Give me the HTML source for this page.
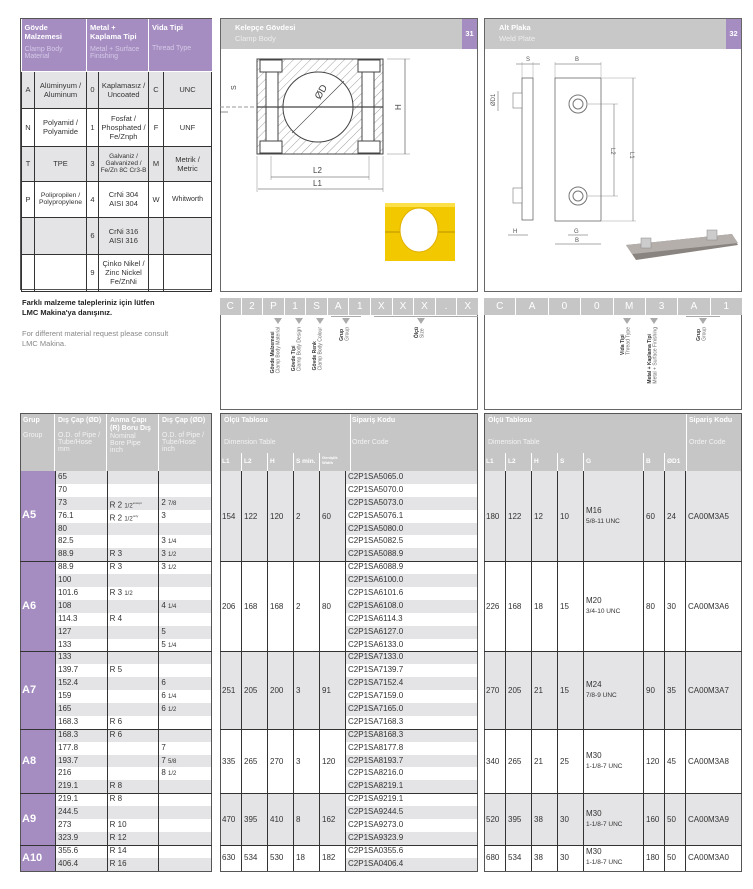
<!DOCTYPE html>
<html><head><meta charset="utf-8">
<style>
*{box-sizing:border-box;margin:0;padding:0}
body{width:753px;height:889px;background:#fff;position:relative;overflow:hidden;font-family:"Liberation Sans","DejaVu Sans",sans-serif;color:#333}
.a{position:absolute}
.r{height:12.9px;display:flex;font-size:8px;line-height:12.9px}
.r>div{border-right:1px solid #333;padding-left:2px;white-space:nowrap;overflow:hidden}
.r>div:last-child{border-right:none}
.g{background:#e4e4e6}.w{background:#fff}
.blk{display:flex;font-size:8px;align-items:center}
.blk>div{height:100%;border-right:1px solid #333;display:flex;align-items:center;padding-left:2px}
.hl{position:absolute;height:1px;background:#333}
.hd{background:#c6c6c6;color:#fff;font-size:7px;font-weight:bold}
.sub{color:#f2f2f2;font-weight:normal;font-size:7px}
sup{font-size:3px}
.fr{font-size:6px}
.pt td{border:1px solid #333;text-align:center;font-size:7.5px;color:#333}
.vt{position:absolute;writing-mode:vertical-rl;transform:rotate(180deg);font-size:5px;line-height:5.5px;color:#666;white-space:nowrap}
.vt b{color:#333}
.tri{position:absolute;width:0;height:0;border-left:4px solid transparent;border-right:4px solid transparent;border-top:6px solid #aaa}
</style></head><body>

<div class="a" style="left:20px;top:18px;width:192px;height:272px;border:1px solid #555">
<table class="pt" style="border-collapse:collapse;width:190px;table-layout:fixed">
<colgroup><col style="width:13px"><col style="width:52px"><col style="width:12px"><col style="width:50px"><col style="width:15px"><col style="width:48px"></colgroup>
<tr style="height:52px;background:#a58dc2;color:#fff;text-align:left;vertical-align:top">
<td colspan="2" style="text-align:left;color:#fff;font-weight:bold;padding:4px 3px;font-size:7.5px;border-color:#fff;border-top:none;border-left:none">Gövde<br>Malzemesi<div style="font-weight:normal;color:#d6c9e6;margin-top:5px;font-size:7px">Clamp Body<br>Material</div></td>
<td colspan="2" style="text-align:left;color:#fff;font-weight:bold;padding:4px 3px;font-size:7.5px;border-color:#fff;border-top:none">Metal +<br>Kaplama Tipi<div style="font-weight:normal;color:#d6c9e6;margin-top:5px;font-size:7px">Metal + Surface<br>Finishing</div></td>
<td colspan="2" style="text-align:left;color:#fff;font-weight:bold;padding:4px 3px;font-size:7.5px;border-color:#fff;border-top:none;border-right:none">Vida Tipi<div style="font-weight:normal;color:#d6c9e6;margin-top:13px;font-size:7px">Thread Type</div></td></tr>
<tr style="height:37px;background:#e4e4e6"><td>A</td><td>Alüminyum /<br>Aluminum</td><td>0</td><td>Kaplamasız /<br>Uncoated</td><td>C</td><td>UNC</td></tr>
<tr style="height:38px"><td>N</td><td>Polyamid /<br>Polyamide</td><td>1</td><td>Fosfat /<br>Phosphated /<br>Fe/Znph</td><td>F</td><td>UNF</td></tr>
<tr style="height:35px;background:#e4e4e6"><td>T</td><td>TPE</td><td>3</td><td style="font-size:6.5px">Galvaniz /<br>Galvanized /<br>Fe/Zn 8C Cr3-B</td><td>M</td><td>Metrik /<br>Metric</td></tr>
<tr style="height:36px"><td>P</td><td style="font-size:6.8px">Polipropilen /<br>Polypropylene</td><td>4</td><td>CrNi 304<br>AISI 304</td><td>W</td><td style="font-size:7px">Whitworth</td></tr>
<tr style="height:37px;background:#e4e4e6"><td></td><td></td><td>6</td><td>CrNi 316<br>AISI 316</td><td></td><td></td></tr>
<tr style="height:37px"><td></td><td></td><td>9</td><td>Çinko Nikel /<br>Zinc Nickel<br>Fe/ZnNi</td><td></td><td></td></tr>
</table></div>

<div class="a" style="left:22px;top:298px;font-size:7.5px;font-weight:bold;color:#222;line-height:10px">Farklı malzeme talepleriniz için lütfen<br>LMC Makina'ya danışınız.</div>
<div class="a" style="left:22px;top:329px;font-size:7.5px;color:#888;line-height:10px">For different material request please consult<br>LMC Makina.</div>

<div class="a" style="left:220px;top:18px;width:258px;height:274px;border:1px solid #666">
<div style="height:30px;background:#c8c8c8;padding:4px 0 0 14px;font-size:7.5px;font-weight:bold;color:#fff">Kelepçe Gövdesi<div style="font-weight:normal;color:#eee;margin-top:2px">Clamp Body</div></div>
<div class="a" style="right:0;top:0;width:15px;height:30px;background:#a58dc2;color:#fff;font-size:7.5px;font-weight:bold;text-align:center;line-height:30px">31</div>
</div>
<svg class="a" style="left:220px;top:48px" width="258" height="244">
<defs><pattern id="h" width="6" height="6" patternUnits="userSpaceOnUse" patternTransform="rotate(45)"><line x1="0" y1="0" x2="0" y2="6" stroke="#666" stroke-width="0.6"/></pattern></defs>
<rect x="37" y="11" width="126" height="95" fill="url(#h)" stroke="#444"/>
<rect x="40" y="12" width="22" height="12" fill="#fff" stroke="#444"/>
<rect x="138" y="12" width="22" height="12" fill="#fff" stroke="#444"/>
<rect x="40" y="93" width="22" height="12" fill="#fff" stroke="#444"/>
<rect x="138" y="93" width="22" height="12" fill="#fff" stroke="#444"/>
<rect x="46" y="24" width="12" height="69" fill="#fff" stroke="#444"/>
<rect x="142" y="24" width="12" height="69" fill="#fff" stroke="#444"/>
<circle cx="98" cy="59" r="35" fill="#fff" stroke="#444"/>
<line x1="37" y1="59" x2="163" y2="59" stroke="#444" stroke-width="1.2"/>
<line x1="0" y1="59" x2="37" y2="59" stroke="#999" stroke-dasharray="4 2"/>
<line x1="72" y1="85" x2="124" y2="33" stroke="#444" stroke-width="0.6"/>
<text x="100" y="52" font-size="10" fill="#444" transform="rotate(-60 100 52)">ØD</text>
<text x="16" y="42" font-size="7" fill="#444" transform="rotate(-90 16 42)">S</text>
<line x1="0" y1="64" x2="8" y2="64" stroke="#444" stroke-width="0.6"/>
<line x1="167" y1="11" x2="190" y2="11" stroke="#888" stroke-width="0.5"/><line x1="167" y1="106" x2="190" y2="106" stroke="#888" stroke-width="0.5"/>
<line x1="185" y1="11" x2="185" y2="106" stroke="#444" stroke-width="0.6"/>
<text x="181" y="62" font-size="8" fill="#444" transform="rotate(-90 181 62)">H</text>
<line x1="51" y1="108" x2="51" y2="132" stroke="#888" stroke-width="0.5"/><line x1="149" y1="108" x2="149" y2="132" stroke="#888" stroke-width="0.5"/>
<line x1="37" y1="108" x2="37" y2="144" stroke="#888" stroke-width="0.5"/><line x1="163" y1="108" x2="163" y2="144" stroke="#888" stroke-width="0.5"/>
<line x1="51" y1="129" x2="149" y2="129" stroke="#444" stroke-width="0.6"/>
<text x="93" y="125" font-size="8" fill="#444">L2</text>
<line x1="38" y1="141" x2="163" y2="141" stroke="#444" stroke-width="0.6"/>
<text x="93" y="138" font-size="8" fill="#444">L1</text>
<rect x="165" y="155" width="70" height="58" fill="#f2c800"/>
<rect x="165" y="155" width="70" height="4" fill="#fbe04a"/>
<line x1="165" y1="184" x2="235" y2="184" stroke="#b89400"/>
<ellipse cx="199" cy="182" rx="19" ry="22" fill="#fff" stroke="#e0b000"/>
</svg>

<div class="a" style="left:484px;top:18px;width:258px;height:274px;border:1px solid #666">
<div style="height:30px;background:#c8c8c8;padding:4px 0 0 14px;font-size:7.5px;font-weight:bold;color:#fff">Alt Plaka<div style="font-weight:normal;color:#eee;margin-top:2px">Weld Plate</div></div>
<div class="a" style="right:0;top:0;width:15px;height:30px;background:#a58dc2;color:#fff;font-size:7.5px;font-weight:bold;text-align:center;line-height:30px">32</div>
</div>
<svg class="a" style="left:484px;top:48px" width="258" height="244" font-size="6" fill="#555">
<rect x="38" y="30" width="11" height="142" fill="#fff" stroke="#555" stroke-width="0.7"/>
<rect x="29" y="45" width="9" height="15" fill="#fff" stroke="#777" stroke-width="0.6"/>
<rect x="29" y="140" width="9" height="15" fill="#fff" stroke="#777" stroke-width="0.6"/>
<rect x="71" y="30" width="46" height="143" fill="#fff" stroke="#555" stroke-width="0.7"/>
<circle cx="94" cy="56" r="9" fill="none" stroke="#777"/><circle cx="94" cy="56" r="5" fill="none" stroke="#777"/>
<circle cx="94" cy="148" r="9" fill="none" stroke="#777"/><circle cx="94" cy="148" r="5" fill="none" stroke="#777"/>
<line x1="32" y1="16" x2="56" y2="16" stroke="#555" stroke-width="0.5"/><text x="42" y="13">S</text>
<line x1="71" y1="16" x2="117" y2="16" stroke="#555" stroke-width="0.5"/><text x="91" y="13">B</text>
<line x1="38" y1="14" x2="38" y2="30" stroke="#888" stroke-width="0.4"/><line x1="49" y1="14" x2="49" y2="30" stroke="#888" stroke-width="0.4"/>
<line x1="71" y1="14" x2="71" y2="30" stroke="#888" stroke-width="0.4"/><line x1="117" y1="14" x2="117" y2="30" stroke="#888" stroke-width="0.4"/>
<line x1="118" y1="30" x2="152" y2="30" stroke="#888" stroke-width="0.4"/><line x1="118" y1="173" x2="152" y2="173" stroke="#888" stroke-width="0.4"/>
<line x1="149" y1="30" x2="149" y2="173" stroke="#555" stroke-width="0.5"/>
<text x="146" y="104" transform="rotate(90 146 104)">L1</text>
<line x1="104" y1="56" x2="134" y2="56" stroke="#777" stroke-width="0.4"/><line x1="104" y1="148" x2="134" y2="148" stroke="#777" stroke-width="0.4"/>
<line x1="130" y1="56" x2="130" y2="148" stroke="#555" stroke-width="0.5"/>
<text x="127" y="100" transform="rotate(90 127 100)">L2</text>
<line x1="14" y1="43" x2="14" y2="63" stroke="#555" stroke-width="0.5"/>
<text x="11" y="58" transform="rotate(-90 11 58)">ØD1</text>
<line x1="24" y1="187" x2="44" y2="187" stroke="#555" stroke-width="0.5"/><text x="29" y="185">H</text>
<line x1="84" y1="187" x2="104" y2="187" stroke="#555" stroke-width="0.5"/><text x="90" y="185">G</text>
<line x1="71" y1="196" x2="117" y2="196" stroke="#555" stroke-width="0.5"/><text x="91" y="194">B</text>
<polygon points="142,197 248,186 254,197 152,212" fill="#8a8480"/>
<polygon points="142,197 248,186 254,195 148,206" fill="#b5afab"/>
<rect x="157" y="190" width="10" height="10" fill="#ccc" stroke="#888" stroke-width="0.5"/>
<rect x="223" y="182" width="10" height="10" fill="#ccc" stroke="#888" stroke-width="0.5"/>
</svg>

<div class="a" style="left:220px;top:298px;width:258px;height:112px;border:1px solid #666;border-top:none"></div>
<div class="a" style="left:484px;top:298px;width:258px;height:112px;border:1px solid #666;border-top:none"></div>
<div class="a" style="left:220px;top:298px;width:258px;height:17px;background:#c6c6c6;display:flex;color:#fff;font-size:10px">
<div style="flex:1;text-align:center;line-height:17px;border-right:1px solid #fff">C</div><div style="flex:1;text-align:center;line-height:17px;border-right:1px solid #fff">2</div><div style="flex:1;text-align:center;line-height:17px;border-right:1px solid #fff">P</div><div style="flex:1;text-align:center;line-height:17px;border-right:1px solid #fff">1</div><div style="flex:1;text-align:center;line-height:17px;border-right:1px solid #fff">S</div><div style="flex:1;text-align:center;line-height:17px;border-right:1px solid #fff">A</div><div style="flex:1;text-align:center;line-height:17px;border-right:1px solid #fff">1</div><div style="flex:1;text-align:center;line-height:17px;border-right:1px solid #fff">X</div><div style="flex:1;text-align:center;line-height:17px;border-right:1px solid #fff">X</div><div style="flex:1;text-align:center;line-height:17px;border-right:1px solid #fff">X</div><div style="flex:1;text-align:center;line-height:17px;border-right:1px solid #fff">.</div><div style="flex:1;text-align:center;line-height:17px">X</div></div>
<div class="a" style="left:484px;top:298px;width:258px;height:17px;background:#c6c6c6;display:flex;color:#fff;font-size:10px">
<div style="flex:1;text-align:center;line-height:17px;border-right:1px solid #fff">C</div><div style="flex:1;text-align:center;line-height:17px;border-right:1px solid #fff">A</div><div style="flex:1;text-align:center;line-height:17px;border-right:1px solid #fff">0</div><div style="flex:1;text-align:center;line-height:17px;border-right:1px solid #fff">0</div><div style="flex:1;text-align:center;line-height:17px;border-right:1px solid #fff">M</div><div style="flex:1;text-align:center;line-height:17px;border-right:1px solid #fff">3</div><div style="flex:1;text-align:center;line-height:17px;border-right:1px solid #fff">A</div><div style="flex:1;text-align:center;line-height:17px">1</div></div>
<div class="a" style="left:331px;top:316px;width:30px;height:1px;background:#aaa"></div>
<div class="a" style="left:374px;top:316px;width:104px;height:1px;background:#aaa"></div>
<div class="a" style="left:686px;top:316px;width:34px;height:1px;background:#aaa"></div>
<div class="tri" style="left:274px;top:318px"></div><div class="tri" style="left:295px;top:318px"></div><div class="tri" style="left:316px;top:318px"></div><div class="tri" style="left:342px;top:318px"></div><div class="tri" style="left:417px;top:318px"></div>
<div class="tri" style="left:623px;top:318px"></div><div class="tri" style="left:650px;top:318px"></div><div class="tri" style="left:699px;top:318px"></div>
<div class="vt" style="left:271px;top:327px"><b>Gövde Malzemesi</b><br>Clamp Body Material</div>
<div class="vt" style="left:292px;top:327px"><b>Gövde Tipi</b><br>Clamp Body Design</div>
<div class="vt" style="left:313px;top:327px"><b>Gövde Renk</b><br>Clamp Body Colour</div>
<div class="vt" style="left:340px;top:327px"><b>Grup</b><br>Group</div>
<div class="vt" style="left:415px;top:327px"><b>Ölçü</b><br>Size</div>
<div class="vt" style="left:621px;top:327px"><b>Vida Tipi</b><br>Thread Type</div>
<div class="vt" style="left:648px;top:327px"><b>Metal + Kaplama Tipi</b><br>Metal + Surface Finishing</div>
<div class="vt" style="left:697px;top:327px"><b>Grup</b><br>Group</div>

<div class="a hd" style="left:20px;top:413px;width:192px;height:58px;display:flex">
<div style="width:35px;border-right:1px solid #fff;padding:4px 3px">Grup<div class="sub" style="margin-top:8px">Group</div></div>
<div style="width:52px;border-right:1px solid #fff;padding:4px 3px">Dış Çap (ØD)<div class="sub" style="margin-top:8px;line-height:7px">O.D. of Pipe /<br>Tube/Hose<br>mm</div></div>
<div style="width:52px;border-right:1px solid #fff;padding:4px 3px;line-height:8px">Anma Çapı<br>(R) Boru Dış<div class="sub" style="line-height:7px">Nominal<br>Bore Pipe<br>inch</div></div>
<div style="width:53px;padding:4px 3px">Dış Çap (ØD)<div class="sub" style="margin-top:8px;line-height:7px">O.D. of Pipe /<br>Tube/Hose<br>inch</div></div>
</div>
<div class="a" style="left:20px;top:471px;width:35px;height:400px;background:#a58dc2"></div>
<div class="a" style="left:22px;top:509px;color:#fff;font-size:11px;font-weight:bold">A5</div>
<div class="a" style="left:22px;top:600px;color:#fff;font-size:11px;font-weight:bold">A6</div>
<div class="a" style="left:22px;top:684px;color:#fff;font-size:11px;font-weight:bold">A7</div>
<div class="a" style="left:22px;top:755px;color:#fff;font-size:11px;font-weight:bold">A8</div>
<div class="a" style="left:22px;top:813px;color:#fff;font-size:11px;font-weight:bold">A9</div>
<div class="a" style="left:22px;top:852px;color:#fff;font-size:11px;font-weight:bold">A10</div>
<div class="a" style="left:55px;top:471px;width:157px;border-left:1px solid #333">
<div class="r g"><div style="width:52px">65</div><div style="width:52px"></div><div style="width:53px"></div></div>
<div class="r w"><div style="width:52px">70</div><div style="width:52px"></div><div style="width:53px"></div></div>
<div class="r g"><div style="width:52px">73</div><div style="width:52px">R 2 <span class="fr">1/2</span><sup>except</sup></div><div style="width:53px">2 <span class="fr">7/8</span></div></div>
<div class="r w"><div style="width:52px">76.1</div><div style="width:52px">R 2 <span class="fr">1/2</span><sup>only</sup></div><div style="width:53px">3</div></div>
<div class="r g"><div style="width:52px">80</div><div style="width:52px"></div><div style="width:53px"></div></div>
<div class="r w"><div style="width:52px">82.5</div><div style="width:52px"></div><div style="width:53px">3 <span class="fr">1/4</span></div></div>
<div class="r g"><div style="width:52px">88.9</div><div style="width:52px">R 3</div><div style="width:53px">3 <span class="fr">1/2</span></div></div>
<div class="r w"><div style="width:52px">88.9</div><div style="width:52px">R 3</div><div style="width:53px">3 <span class="fr">1/2</span></div></div>
<div class="r g"><div style="width:52px">100</div><div style="width:52px"></div><div style="width:53px"></div></div>
<div class="r w"><div style="width:52px">101.6</div><div style="width:52px">R 3 <span class="fr">1/2</span></div><div style="width:53px"></div></div>
<div class="r g"><div style="width:52px">108</div><div style="width:52px"></div><div style="width:53px">4 <span class="fr">1/4</span></div></div>
<div class="r w"><div style="width:52px">114.3</div><div style="width:52px">R 4</div><div style="width:53px"></div></div>
<div class="r g"><div style="width:52px">127</div><div style="width:52px"></div><div style="width:53px">5</div></div>
<div class="r w"><div style="width:52px">133</div><div style="width:52px"></div><div style="width:53px">5 <span class="fr">1/4</span></div></div>
<div class="r g"><div style="width:52px">133</div><div style="width:52px"></div><div style="width:53px"></div></div>
<div class="r w"><div style="width:52px">139.7</div><div style="width:52px">R 5</div><div style="width:53px"></div></div>
<div class="r g"><div style="width:52px">152.4</div><div style="width:52px"></div><div style="width:53px">6</div></div>
<div class="r w"><div style="width:52px">159</div><div style="width:52px"></div><div style="width:53px">6 <span class="fr">1/4</span></div></div>
<div class="r g"><div style="width:52px">165</div><div style="width:52px"></div><div style="width:53px">6 <span class="fr">1/2</span></div></div>
<div class="r w"><div style="width:52px">168.3</div><div style="width:52px">R 6</div><div style="width:53px"></div></div>
<div class="r g"><div style="width:52px">168.3</div><div style="width:52px">R 6</div><div style="width:53px"></div></div>
<div class="r w"><div style="width:52px">177.8</div><div style="width:52px"></div><div style="width:53px">7</div></div>
<div class="r g"><div style="width:52px">193.7</div><div style="width:52px"></div><div style="width:53px">7 <span class="fr">5/8</span></div></div>
<div class="r w"><div style="width:52px">216</div><div style="width:52px"></div><div style="width:53px">8 <span class="fr">1/2</span></div></div>
<div class="r g"><div style="width:52px">219.1</div><div style="width:52px">R 8</div><div style="width:53px"></div></div>
<div class="r w"><div style="width:52px">219.1</div><div style="width:52px">R 8</div><div style="width:53px"></div></div>
<div class="r g"><div style="width:52px">244.5</div><div style="width:52px"></div><div style="width:53px"></div></div>
<div class="r w"><div style="width:52px">273</div><div style="width:52px">R 10</div><div style="width:53px"></div></div>
<div class="r g"><div style="width:52px">323.9</div><div style="width:52px">R 12</div><div style="width:53px"></div></div>
<div class="r w"><div style="width:52px">355.6</div><div style="width:52px">R 14</div><div style="width:53px"></div></div>
<div class="r g"><div style="width:52px">406.4</div><div style="width:52px">R 16</div><div style="width:53px"></div></div>
</div>
<div class="a" style="left:20px;top:413px;width:192px;height:459px;border:1px solid #555"></div>

<div class="a hd" style="left:220px;top:413px;width:258px;height:58px">
<div class="a" style="left:4px;top:4px">Ölçü Tablosu</div><div class="a sub" style="left:4px;top:26px">Dimension Table</div>
<div class="a" style="left:130px;top:0;width:1px;height:58px;background:#fff"></div>
<div class="a" style="left:132px;top:4px">Sipariş Kodu</div><div class="a sub" style="left:132px;top:26px">Order Code</div>
<div class="a" style="left:0;top:40px;width:130px;height:18px;display:flex;font-size:6.5px">
<div style="width:22px;border-right:1px solid #fff;padding:5px 2px">L1</div><div style="width:26px;border-right:1px solid #fff;padding:5px 2px">L2</div><div style="width:26px;border-right:1px solid #fff;padding:5px 2px">H</div><div style="width:26px;border-right:1px solid #fff;padding:5px 2px">S min.</div><div style="width:30px;padding:2px;font-size:4px">Genişlik<br>Width</div></div>
</div>
<div class="a" style="left:220px;top:471px;width:126px">
<div class="blk g" style="height:90.3px"><div style="width:22px">154</div><div style="width:26px">122</div><div style="width:26px">120</div><div style="width:26px">2</div><div style="width:26px">60</div></div>
<div class="blk w" style="height:90.3px"><div style="width:22px">206</div><div style="width:26px">168</div><div style="width:26px">168</div><div style="width:26px">2</div><div style="width:26px">80</div></div>
<div class="blk g" style="height:77.4px"><div style="width:22px">251</div><div style="width:26px">205</div><div style="width:26px">200</div><div style="width:26px">3</div><div style="width:26px">91</div></div>
<div class="blk w" style="height:64.5px"><div style="width:22px">335</div><div style="width:26px">265</div><div style="width:26px">270</div><div style="width:26px">3</div><div style="width:26px">120</div></div>
<div class="blk g" style="height:51.6px"><div style="width:22px">470</div><div style="width:26px">395</div><div style="width:26px">410</div><div style="width:26px">8</div><div style="width:26px">162</div></div>
<div class="blk w" style="height:25.8px"><div style="width:22px">630</div><div style="width:26px">534</div><div style="width:26px">530</div><div style="width:26px">18</div><div style="width:26px">182</div></div>
</div>
<div class="a" style="left:346px;top:471px;width:132px">
<div class="r g"><div>C2P1SA5065.0</div></div><div class="r w"><div>C2P1SA5070.0</div></div><div class="r g"><div>C2P1SA5073.0</div></div><div class="r w"><div>C2P1SA5076.1</div></div><div class="r g"><div>C2P1SA5080.0</div></div><div class="r w"><div>C2P1SA5082.5</div></div><div class="r g"><div>C2P1SA5088.9</div></div>
<div class="r w"><div>C2P1SA6088.9</div></div><div class="r g"><div>C2P1SA6100.0</div></div><div class="r w"><div>C2P1SA6101.6</div></div><div class="r g"><div>C2P1SA6108.0</div></div><div class="r w"><div>C2P1SA6114.3</div></div><div class="r g"><div>C2P1SA6127.0</div></div><div class="r w"><div>C2P1SA6133.0</div></div>
<div class="r g"><div>C2P1SA7133.0</div></div><div class="r w"><div>C2P1SA7139.7</div></div><div class="r g"><div>C2P1SA7152.4</div></div><div class="r w"><div>C2P1SA7159.0</div></div><div class="r g"><div>C2P1SA7165.0</div></div><div class="r w"><div>C2P1SA7168.3</div></div>
<div class="r g"><div>C2P1SA8168.3</div></div><div class="r w"><div>C2P1SA8177.8</div></div><div class="r g"><div>C2P1SA8193.7</div></div><div class="r w"><div>C2P1SA8216.0</div></div><div class="r g"><div>C2P1SA8219.1</div></div>
<div class="r w"><div>C2P1SA9219.1</div></div><div class="r g"><div>C2P1SA9244.5</div></div><div class="r w"><div>C2P1SA9273.0</div></div><div class="r g"><div>C2P1SA9323.9</div></div>
<div class="r w"><div>C2P1SA0355.6</div></div><div class="r g"><div>C2P1SA0406.4</div></div>
</div>
<div class="a" style="left:220px;top:413px;width:258px;height:459px;border:1px solid #555"></div>

<div class="a hd" style="left:484px;top:413px;width:258px;height:58px">
<div class="a" style="left:4px;top:4px">Ölçü Tablosu</div><div class="a sub" style="left:4px;top:26px">Dimension Table</div>
<div class="a" style="left:202px;top:0;width:1px;height:58px;background:#fff"></div>
<div class="a" style="left:205px;top:4px">Sipariş Kodu</div><div class="a sub" style="left:205px;top:26px">Order Code</div>
<div class="a" style="left:0;top:40px;width:202px;height:18px;display:flex;font-size:6.5px">
<div style="width:22px;border-right:1px solid #fff;padding:5px 2px">L1</div><div style="width:26px;border-right:1px solid #fff;padding:5px 2px">L2</div><div style="width:26px;border-right:1px solid #fff;padding:5px 2px">H</div><div style="width:26px;border-right:1px solid #fff;padding:5px 2px">S</div><div style="width:60px;border-right:1px solid #fff;padding:5px 2px">G</div><div style="width:21px;border-right:1px solid #fff;padding:5px 2px">B</div><div style="width:21px;padding:5px 2px">ØD1</div></div>
</div>
<div class="a" style="left:484px;top:471px;width:258px">
<div class="blk g" style="height:90.3px"><div style="width:22px">180</div><div style="width:26px">122</div><div style="width:26px">12</div><div style="width:26px">10</div><div style="width:60px"><div style="line-height:10px">M16<br><span style="font-size:6.5px">5/8-11 UNC</span></div></div><div style="width:21px">60</div><div style="width:21px">24</div><div style="width:56px;border:none">CA00M3A5</div></div>
<div class="blk w" style="height:90.3px"><div style="width:22px">226</div><div style="width:26px">168</div><div style="width:26px">18</div><div style="width:26px">15</div><div style="width:60px"><div style="line-height:10px">M20<br><span style="font-size:6.5px">3/4-10 UNC</span></div></div><div style="width:21px">80</div><div style="width:21px">30</div><div style="width:56px;border:none">CA00M3A6</div></div>
<div class="blk g" style="height:77.4px"><div style="width:22px">270</div><div style="width:26px">205</div><div style="width:26px">21</div><div style="width:26px">15</div><div style="width:60px"><div style="line-height:10px">M24<br><span style="font-size:6.5px">7/8-9 UNC</span></div></div><div style="width:21px">90</div><div style="width:21px">35</div><div style="width:56px;border:none">CA00M3A7</div></div>
<div class="blk w" style="height:64.5px"><div style="width:22px">340</div><div style="width:26px">265</div><div style="width:26px">21</div><div style="width:26px">25</div><div style="width:60px"><div style="line-height:10px">M30<br><span style="font-size:6.5px">1-1/8-7 UNC</span></div></div><div style="width:21px">120</div><div style="width:21px">45</div><div style="width:56px;border:none">CA00M3A8</div></div>
<div class="blk g" style="height:51.6px"><div style="width:22px">520</div><div style="width:26px">395</div><div style="width:26px">38</div><div style="width:26px">30</div><div style="width:60px"><div style="line-height:10px">M30<br><span style="font-size:6.5px">1-1/8-7 UNC</span></div></div><div style="width:21px">160</div><div style="width:21px">50</div><div style="width:56px;border:none">CA00M3A9</div></div>
<div class="blk w" style="height:25.8px"><div style="width:22px">680</div><div style="width:26px">534</div><div style="width:26px">38</div><div style="width:26px">30</div><div style="width:60px"><div style="line-height:10px">M30<br><span style="font-size:6.5px">1-1/8-7 UNC</span></div></div><div style="width:21px">180</div><div style="width:21px">50</div><div style="width:56px;border:none">CA00M3A0</div></div>
</div>
<div class="a" style="left:484px;top:413px;width:258px;height:459px;border:1px solid #555"></div>

<div class="hl" style="left:20px;width:192px;top:561px"></div><div class="hl" style="left:20px;width:192px;top:651px"></div><div class="hl" style="left:20px;width:192px;top:729px"></div><div class="hl" style="left:20px;width:192px;top:793px"></div><div class="hl" style="left:20px;width:192px;top:845px"></div>
<div class="hl" style="left:220px;width:258px;top:561px"></div><div class="hl" style="left:220px;width:258px;top:651px"></div><div class="hl" style="left:220px;width:258px;top:729px"></div><div class="hl" style="left:220px;width:258px;top:793px"></div><div class="hl" style="left:220px;width:258px;top:845px"></div>
<div class="hl" style="left:484px;width:258px;top:561px"></div><div class="hl" style="left:484px;width:258px;top:651px"></div><div class="hl" style="left:484px;width:258px;top:729px"></div><div class="hl" style="left:484px;width:258px;top:793px"></div><div class="hl" style="left:484px;width:258px;top:845px"></div>
</body></html>
